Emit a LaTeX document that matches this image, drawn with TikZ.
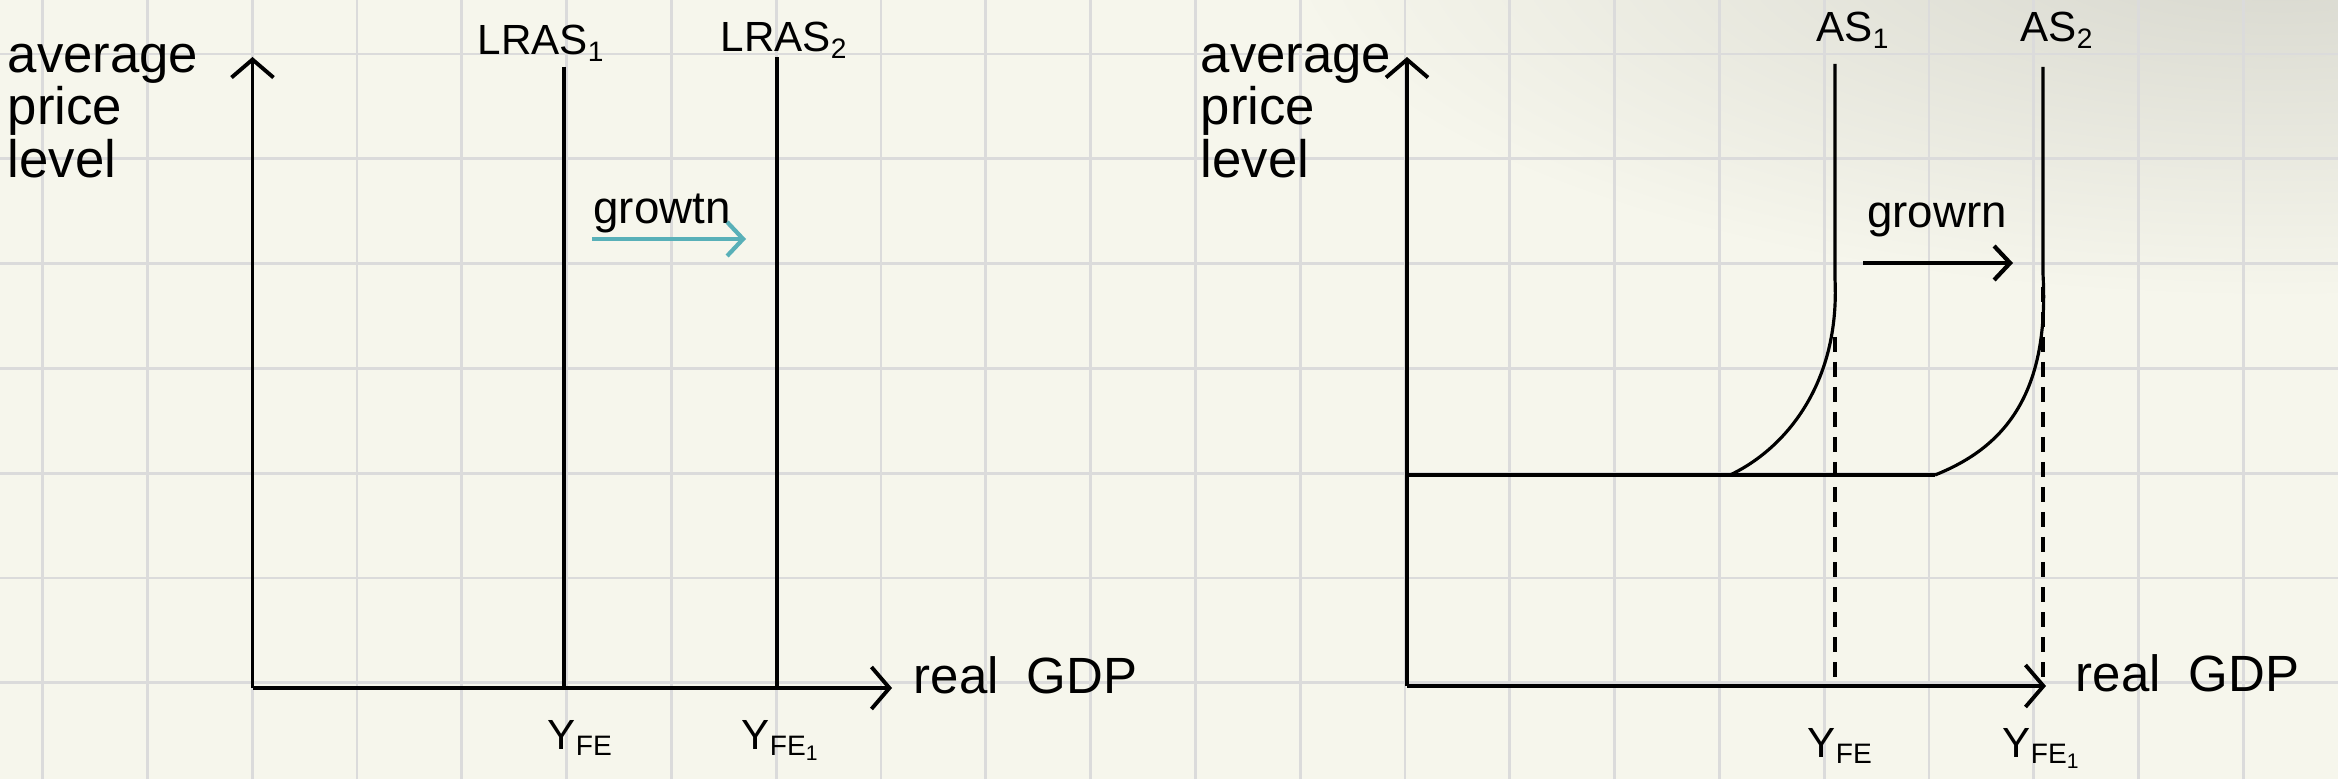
\documentclass[tikz,border=0pt]{standalone}
\usepackage{fontspec}
\setmainfont{Liberation Sans}
\usetikzlibrary{positioning, arrows.meta, calc}
\definecolor{paper}{RGB}{246,246,236}
\definecolor{gridgray}{RGB}{219,219,219}
\definecolor{curl}{RGB}{214,214,205}
\definecolor{growthteal}{RGB}{88,176,184}

\begin{document}
\begin{tikzpicture}[
            every node/.style={inner sep=0pt},
            gridline/.style={gridgray, line width=0.8pt},
            axis/.style={line width=1.1pt, -{Straight Barb[length=1.8mm, width=4.2mm]}},
            curve/.style={line width=0.9pt},
            guide/.style={line width=0.95pt, dash pattern=on 1.5mm off 1mm},
            growarrow/.style={line width=1.2pt, -{Straight Barb[length=1.6mm, width=3.4mm]}},
            ylab/.style={align=left, anchor=north west, font=\fontsize{15}{13.8}\selectfont},
            xlab/.style={anchor=base west, font=\fontsize{14.5}{16}\selectfont},
            curvelab/.style={anchor=base west, font=\fontsize{12}{14}\selectfont},
            ticklab/.style={anchor=base west, font=\fontsize{12}{14}\selectfont},
            note/.style={anchor=base, font=\fontsize{13}{15}\selectfont}
      ]
      % Paper and grid
      \useasboundingbox (0,0) rectangle (23.38,7.79);
      \fill[paper] (0,0) rectangle (23.38,7.79);
      \shade[inner color=curl, outer color=paper] (22.8,8.4) ellipse (10 and 3.6);
      \foreach \i in {0,...,21}
            \draw[gridline] (0.427+1.0479*\i,0) -- (0.427+1.0479*\i,7.79);
      \foreach \j in {0,...,6}
            \draw[gridline] (0,0.962+1.0479*\j) -- (23.38,0.962+1.0479*\j);

      % Left graph: LRAS
      \coordinate (o1) at (2.525,0.91);
      \coordinate (y1top) at (2.525,7.22);
      \coordinate (x1end) at (8.92,0.91);
      \coordinate (lras1top) at (5.64,7.12);
      \coordinate (lras1bot) at (5.64,0.91);
      \coordinate (lras2top) at (7.77,7.22);
      \coordinate (lras2bot) at (7.77,0.91);
      \coordinate (grow1a) at (5.92,5.40);
      \coordinate (grow1b) at (7.46,5.40);

      \node[ylab] (ylab1) at (0.07,7.36) {average\\price\\level};
      \node[xlab] (xlab1) at (9.13,0.86) {real\ \ GDP};
      \node[curvelab] (lras1) at (4.77,7.24) {LRAS\textsubscript{1}};
      \node[curvelab] (lras2) at (7.20,7.27) {LRAS\textsubscript{2}};
      \node[note] (note1) at (6.62,5.55) {growtn};
      \node[ticklab] (yfe1) at (5.47,0.30) {Y\textsubscript{FE}};
      \node[ticklab] (yfe1b) at (7.41,0.30) {Y\textsubscript{FE\textsubscript{1}}};

      \draw[axis] (o1) -- (y1top);
      \draw[axis] (o1) -- (x1end);
      \draw[curve, line width=1.1pt] (lras1top) -- (lras1bot);
      \draw[curve, line width=1.1pt] (lras2top) -- (lras2bot);
      \draw[growarrow, growthteal] (grow1a) -- (grow1b);

      % Right graph: AS
      \coordinate (o2) at (14.07,0.93);
      \coordinate (y2top) at (14.07,7.22);
      \coordinate (x2end) at (20.46,0.93);
      \coordinate (floor) at (14.07,3.04);
      \coordinate (as1top) at (18.35,7.15);
      \coordinate (as1bend) at (18.35,5.0);
      \coordinate (as1foot) at (17.30,3.04);
      \coordinate (as2top) at (20.43,7.12);
      \coordinate (as2bend) at (20.43,5.05);
      \coordinate (as2foot) at (19.35,3.04);
      \coordinate (fe1top) at (18.35,4.42);
      \coordinate (fe1bot) at (18.35,0.93);
      \coordinate (fe2top) at (20.43,4.92);
      \coordinate (fe2bot) at (20.43,0.93);
      \coordinate (grow2a) at (18.63,5.16);
      \coordinate (grow2b) at (20.13,5.16);

      \node[ylab] (ylab2) at (12.0,7.36) {average\\price\\level};
      \node[xlab] (xlab2) at (20.75,0.88) {real\ \ GDP};
      \node[curvelab] (as1) at (18.16,7.37) {AS\textsubscript{1}};
      \node[curvelab] (as2) at (20.20,7.37) {AS\textsubscript{2}};
      \node[note] (note2) at (19.37,5.51) {growrn};
      \node[ticklab] (yfe2) at (18.07,0.22) {Y\textsubscript{FE}};
      \node[ticklab] (yfe2b) at (20.02,0.22) {Y\textsubscript{FE\textsubscript{1}}};

      \draw[axis] (o2) -- (y2top);
      \draw[axis] (o2) -- (x2end);
      \draw[curve] (floor) -- (as2foot);
      \draw[curve] (as1top) -- (as1bend) .. controls (18.40,3.95) and (17.85,3.30) .. (as1foot);
      \draw[curve] (as2top) -- (as2bend) .. controls (20.50,3.8) and (20.0,3.3) .. (as2foot);
      \draw[guide] (fe1top) -- (fe1bot);
      \draw[guide] (fe2top) -- (fe2bot);
      \draw[growarrow] (grow2a) -- (grow2b);
\end{tikzpicture}
\end{document}
